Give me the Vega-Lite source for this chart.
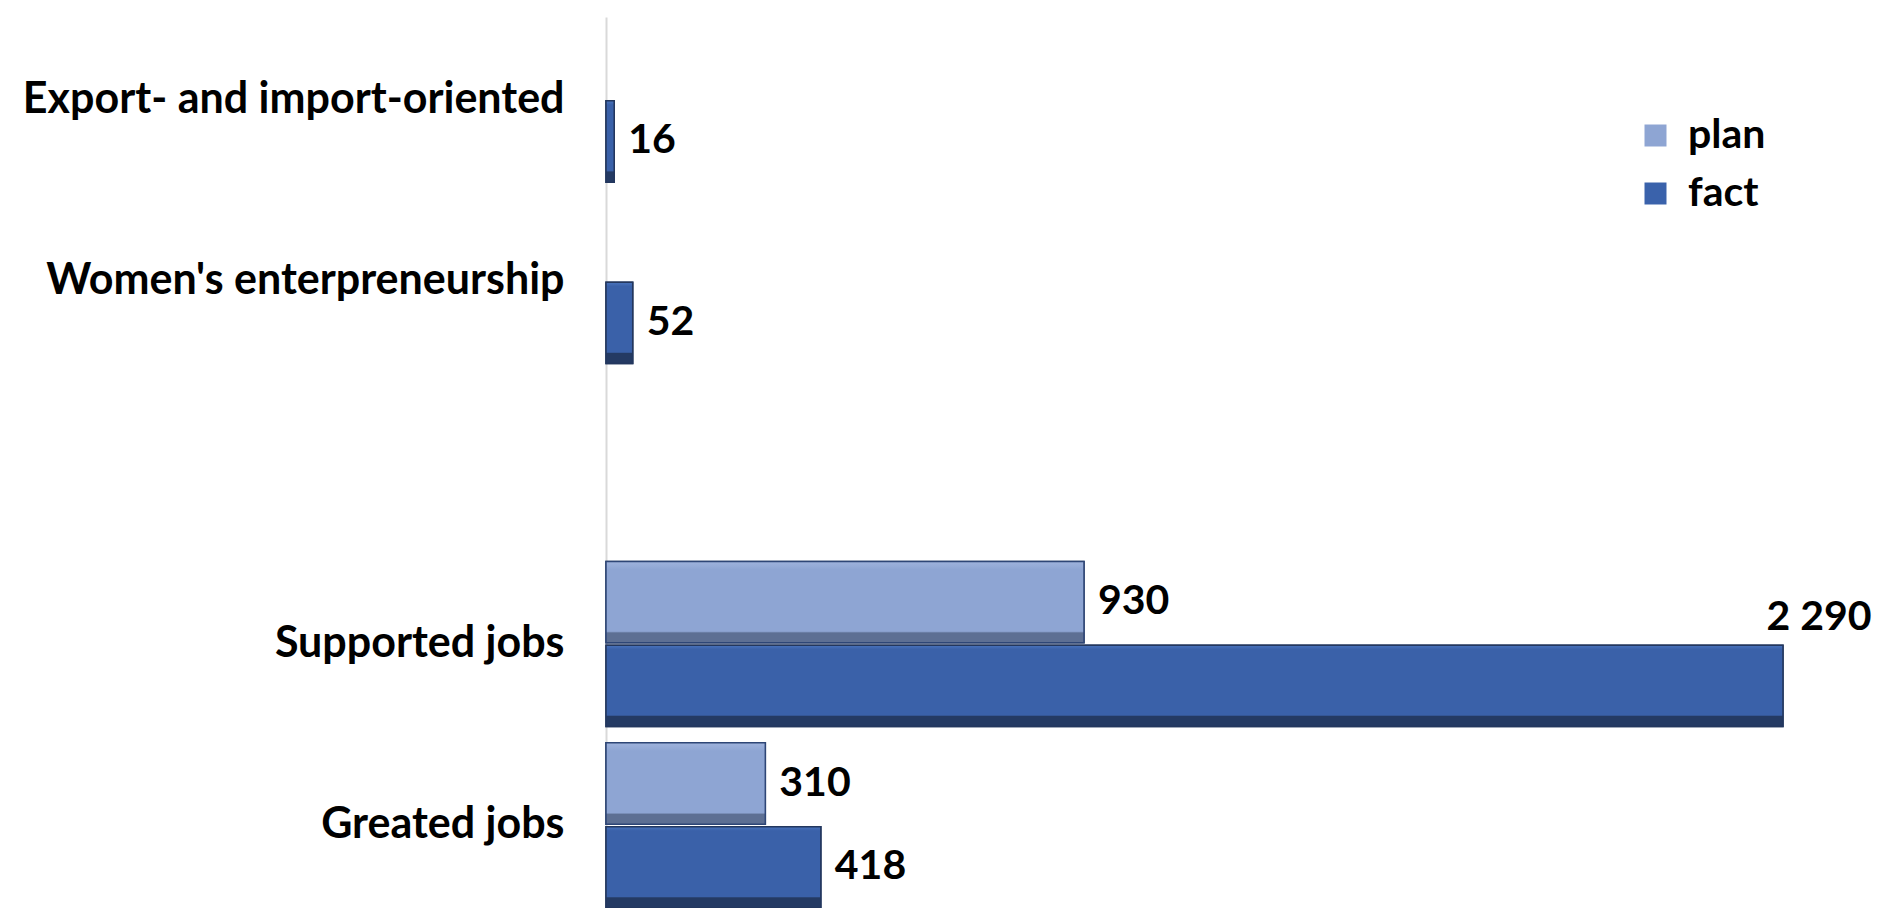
{
  "$schema": "https://vega.github.io/schema/vega-lite/v6.json",
  "autosize": {"type": "none"},
  "padding": {"left": 606, "top": 17, "right": 0, "bottom": 0},
  "width": 1288,
  "height": 891,
  "background": "white",
  "config": {"view": {"stroke": null}},
  "data": {"values": [
    {"category": "Export- and import-oriented", "series": "fact", "value": 16, "label": "16"},
    {"category": "Women's enterpreneurship", "series": "fact", "value": 52, "label": "52"},
    {"category": "Supported jobs", "series": "plan", "value": 930, "label": "930"},
    {"category": "Supported jobs", "series": "fact", "value": 2290, "label": "2 290"},
    {"category": "Greated jobs", "series": "plan", "value": 310, "label": "310"},
    {"category": "Greated jobs", "series": "fact", "value": 418, "label": "418"}
  ]},
  "encoding": {
    "y": {
      "field": "category", "type": "nominal",
      "scale": {"domain": ["Export- and import-oriented", "Women's enterpreneurship", " ", "Supported jobs", "Greated jobs"], "paddingInner": 0.09, "paddingOuter": 0},
      "axis": {"title": null, "ticks": false, "labelPadding": 42, "labelFont": "Lato", "labelFontWeight": "bold", "labelFontSize": 43, "labelColor": "#000000", "labelLimit": 800, "domainColor": "#d9d9d9", "domainWidth": 2}
    },
    "yOffset": {"field": "series", "type": "nominal", "scale": {"domain": ["plan", "fact"], "paddingInner": 0.03}},
    "x": {"field": "value", "type": "quantitative", "scale": {"domain": [0, 2506], "nice": false, "zero": true}, "axis": null}
  },
  "layer": [
    {
      "mark": {"type": "bar", "stroke": "#23375e", "strokeWidth": 1.5},
      "encoding": {
        "color": {
          "field": "series", "type": "nominal",
          "scale": {"domain": ["plan", "fact"], "range": ["#8ea5d3", "#3a62ab"]},
          "legend": {"orient": "none", "legendX": 1029, "legendY": 98, "title": null, "symbolType": "square", "symbolSize": 484, "symbolStrokeWidth": 0, "labelFont": "Lato", "labelFontWeight": "bold", "labelFontSize": 41, "labelColor": "#000000", "labelOffset": 12, "rowPadding": 16}
        }
      }
    },
    {
      "transform": [{"filter": "datum.series === 'plan'"}],
      "mark": {"type": "bar", "stroke": "#2e4676", "strokeWidth": 1.5, "fill": {"gradient": "linear", "x1": 0, "y1": 0, "x2": 0, "y2": 1, "stops": [{"offset": 0, "color": "#9fb3dc"}, {"offset": 0.1, "color": "#8ea5d3"}, {"offset": 0.86, "color": "#8ea5d3"}, {"offset": 0.88, "color": "#5d6f93"}, {"offset": 1, "color": "#5d6f93"}]}}
    },
    {
      "transform": [{"filter": "datum.series === 'fact'"}],
      "mark": {"type": "bar", "stroke": "#23375e", "strokeWidth": 1.5, "fill": {"gradient": "linear", "x1": 0, "y1": 0, "x2": 0, "y2": 1, "stops": [{"offset": 0, "color": "#4a74bd"}, {"offset": 0.05, "color": "#3a61a9"}, {"offset": 0.86, "color": "#3a61a9"}, {"offset": 0.875, "color": "#243a63"}, {"offset": 1, "color": "#243a63"}]}}
    },
    {
      "transform": [{"filter": "datum.value < 2000"}],
      "mark": {"type": "text", "align": "left", "baseline": "middle", "dx": 14, "font": "Lato", "fontWeight": "bold", "fontSize": 41, "color": "#000000"},
      "encoding": {"text": {"field": "label", "type": "nominal"}}
    },
    {
      "transform": [{"filter": "datum.value >= 2000"}],
      "mark": {"type": "text", "align": "center", "baseline": "middle", "dx": 36, "dy": -68, "font": "Lato", "fontWeight": "bold", "fontSize": 41, "color": "#000000"},
      "encoding": {"text": {"field": "label", "type": "nominal"}}
    }
  ]
}
